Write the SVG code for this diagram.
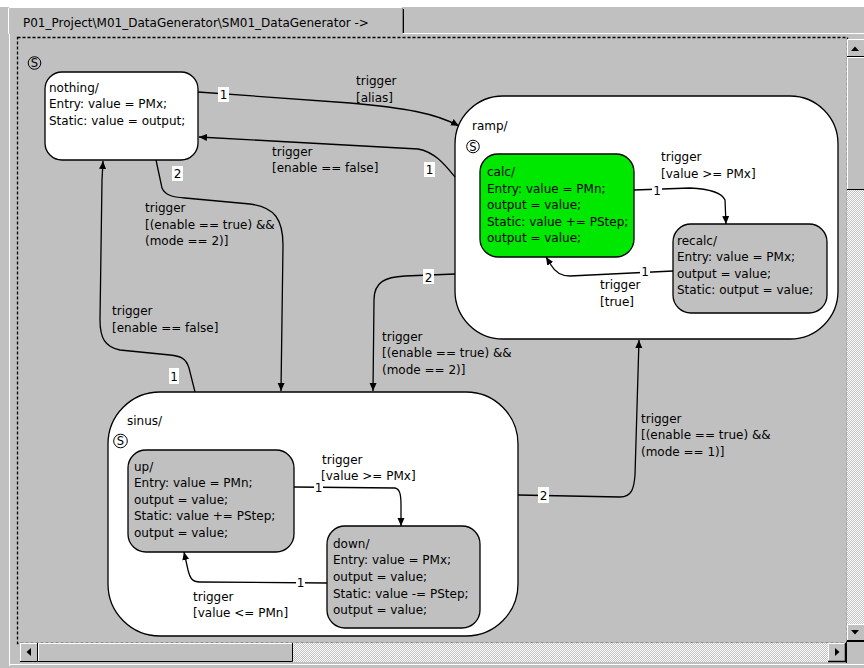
<svg xmlns="http://www.w3.org/2000/svg" width="864" height="668" viewBox="0 0 864 668">
<defs>
<style>
text{font-family:"DejaVu Sans","Liberation Sans",sans-serif;font-size:12px;fill:#000}
.st{stroke:#000;stroke-width:1.3}
.w{fill:#fff}
.g{fill:#c0c0c0}
.gr{fill:#00e800}
.c{fill:none;stroke:#000;stroke-width:1.3}
.lb{fill:#fff}
.n{text-anchor:middle}
.ic{fill:none;stroke:#000;stroke-width:1}
.ict{font-size:11.5px;text-anchor:middle}
</style>
<marker id="ah" markerUnits="userSpaceOnUse" markerWidth="9" markerHeight="8" refX="8" refY="4" orient="auto">
<path d="M0,0.5 L8,4 L0,7.5 z" fill="#000"/>
</marker>
<pattern id="dith" width="2" height="2" patternUnits="userSpaceOnUse">
<rect width="2" height="2" fill="#c0c0c0"/>
<rect width="1" height="1" fill="#fff"/>
<rect x="1" y="1" width="1" height="1" fill="#fff"/>
</pattern>
</defs>

<!-- window background -->
<rect width="864" height="668" fill="#c0c0c0"/>
<rect width="864" height="7" fill="#fff"/>

<!-- tab -->
<g id="tab">
<path d="M8.5,34 V9 Q8.5,7.5 10,7.5 H402" fill="none" stroke="#fff" stroke-width="1"/>
<line x1="402.5" y1="8" x2="402.5" y2="33" stroke="#808080" stroke-width="1"/>
<line x1="403.5" y1="9" x2="403.5" y2="33" stroke="#000" stroke-width="1"/>
<line x1="403" y1="33.5" x2="864" y2="33.5" stroke="#fff" stroke-width="1"/>
<line x1="9.5" y1="34" x2="9.5" y2="666" stroke="#fff" stroke-width="1"/>
<text x="23" y="27">P01_Project\M01_DataGenerator\SM01_DataGenerator -&gt;</text>
</g>

<!-- canvas border -->
<rect x="17.5" y="37.5" width="830" height="606" fill="none" stroke="#000" stroke-width="1.3" stroke-dasharray="3,2"/>

<!-- top-level initial icon -->
<g id="init-top">
<circle class="ic" cx="34.5" cy="63" r="6.3"/>
<text class="ict" x="34.5" y="67">S</text>
</g>

<!-- nodes -->
<g id="nothing">
<rect class="w st" x="45" y="72" width="153" height="88" rx="17"/>
<text x="49" y="91.5">nothing/</text>
<text x="49" y="108">Entry: value = PMx;</text>
<text x="49" y="124.5">Static: value = output;</text>
</g>

<g id="ramp">
<rect class="w st" x="455" y="96" width="383" height="243" rx="48"/>
<text x="472" y="129.5">ramp/</text>
<circle class="ic" cx="473" cy="146.5" r="6.3"/>
<text class="ict" x="473" y="150.5">S</text>
</g>

<g id="calc">
<rect class="gr st" x="480" y="154" width="154" height="103" rx="18"/>
<text x="487" y="176">calc/</text>
<text x="487" y="192.6">Entry: value = PMn;</text>
<text x="487" y="209.2">output = value;</text>
<text x="487" y="225.8">Static: value += PStep;</text>
<text x="487" y="242.4">output = value;</text>
</g>

<g id="recalc">
<rect class="g st" x="673" y="224" width="154" height="89" rx="18"/>
<text x="677" y="244.5">recalc/</text>
<text x="677" y="261.1">Entry: value = PMx;</text>
<text x="677" y="277.7">output = value;</text>
<text x="677" y="294.3">Static: output = value;</text>
</g>

<g id="sinus">
<rect class="w st" x="108" y="392" width="410" height="244" rx="52"/>
<text x="127" y="424.5">sinus/</text>
<circle class="ic" cx="120.5" cy="441" r="6.8"/>
<text class="ict" x="120.5" y="445">S</text>
</g>

<g id="up">
<rect class="g st" x="128" y="450" width="166" height="102" rx="18"/>
<text x="134" y="470.5">up/</text>
<text x="134" y="487.1">Entry: value = PMn;</text>
<text x="134" y="503.7">output = value;</text>
<text x="134" y="520.3">Static: value += PStep;</text>
<text x="134" y="536.9">output = value;</text>
</g>

<g id="down">
<rect class="g st" x="327" y="526" width="153" height="102" rx="18"/>
<text x="333" y="547.8">down/</text>
<text x="333" y="564.4">Entry: value = PMx;</text>
<text x="333" y="581">output = value;</text>
<text x="333" y="597.6">Static: value -= PStep;</text>
<text x="333" y="614.2">output = value;</text>
</g>

<!-- connectors -->
<g id="connectors">
<path class="c" marker-end="url(#ah)" d="M198,92 L350,103 C405,108 435,113 459,126"/>
<path class="c" marker-end="url(#ah)" d="M455,177 C445,165 435,152 418,149 L199,137"/>
<path class="c" marker-end="url(#ah)" d="M156,160 L162,188 C165,195 172,197 185,198 L250,204 C275,207 283,220 283,245 L281,391"/>
<path class="c" marker-end="url(#ah)" d="M195,392 L189,368 C186,358 180,356 170,355 L120,350 C105,347 100,338 100,320 L102,180 L103,161"/>
<path class="c" marker-end="url(#ah)" d="M455,274 L405,276 C385,277 374,282 374,300 L373,391"/>
<path class="c" marker-end="url(#ah)" d="M518,495 L620,497 C632,497 634,488 635,475 L639,340"/>
<path class="c" marker-end="url(#ah)" d="M634,190 L690,188 C710,189 722,193 725,200 L726,224"/>
<path class="c" marker-end="url(#ah)" d="M673,271 L570,276 C560,276 555,272 551,265 L546,257"/>
<path class="c" marker-end="url(#ah)" d="M294,487 L395,488 C400,489 401,495 401,505 L401,526"/>
<path class="c" marker-end="url(#ah)" d="M327,583 L200,582 C192,582 190,578 188,570 L184,552"/>

<!-- priority labels -->
<rect class="lb" x="218" y="87" width="11" height="15"/><text class="n" x="223.5" y="99">1</text>
<rect class="lb" x="424" y="162" width="11" height="15"/><text class="n" x="429.5" y="174">1</text>
<rect class="lb" x="172" y="166" width="11" height="15"/><text class="n" x="177.5" y="178">2</text>
<rect class="lb" x="169" y="368" width="10" height="16"/><text class="n" x="174" y="380.5">1</text>
<rect class="lb" x="423" y="269" width="11" height="15"/><text class="n" x="428.5" y="281.5">2</text>
<rect class="lb" x="538" y="487" width="11" height="16"/><text class="n" x="543.5" y="499.5">2</text>
<rect class="lb" x="652" y="184" width="10" height="13"/><text class="n" x="657" y="195">1</text>
<rect class="lb" x="640" y="265" width="10" height="13"/><text class="n" x="645" y="276">1</text>
<rect class="lb" x="314" y="481" width="9" height="13"/><text class="n" x="318.5" y="492">1</text>
<rect class="lb" x="296" y="576" width="9" height="13"/><text class="n" x="300.5" y="587">1</text>

<!-- trigger labels -->
<text x="356" y="85">trigger</text><text x="356" y="101.6">[alias]</text>
<text x="272" y="155.5">trigger</text><text x="272" y="172">[enable == false]</text>
<text x="661" y="161">trigger</text><text x="661" y="177.6">[value &gt;= PMx]</text>
<text x="600" y="289">trigger</text><text x="600" y="305.6">[true]</text>
<text x="145" y="212">trigger</text><text x="145" y="228.6">[(enable == true) &amp;&amp;</text><text x="145" y="245.2">(mode == 2)]</text>
<text x="112" y="315">trigger</text><text x="112" y="331.6">[enable == false]</text>
<text x="382" y="340.5">trigger</text><text x="382" y="357.1">[(enable == true) &amp;&amp;</text><text x="382" y="373.7">(mode == 2)]</text>
<text x="641" y="422.8">trigger</text><text x="641" y="439.4">[(enable == true) &amp;&amp;</text><text x="641" y="456">(mode == 1)]</text>
<text x="322" y="463.5">trigger</text><text x="321" y="480.1">[value &gt;= PMx]</text>
<text x="193" y="600.5">trigger</text><text x="193" y="617.1">[value &lt;= PMn]</text>
</g>

<!-- vertical scrollbar -->
<g id="vscroll">
<rect x="847" y="39" width="17" height="602" fill="url(#dith)"/>
<rect x="847" y="39" width="17" height="18" fill="#c0c0c0"/>
<path d="M847.5,56.5 V39.5 H864" fill="none" stroke="#fff"/>
<path d="M847,56.5 H864" fill="none" stroke="#000"/>
<path d="M851,51 H859 L855,46.5 z" fill="#000"/>
<rect x="847" y="57" width="17" height="133" fill="#c0c0c0"/>
<path d="M847.5,189.5 V57.5 H864" fill="none" stroke="#fff"/>
<path d="M847,189.5 H864" fill="none" stroke="#000"/>
<rect x="847" y="624" width="17" height="17" fill="#c0c0c0"/>
<path d="M847.5,640.5 V624.5 H864" fill="none" stroke="#fff"/>
<path d="M847,640.5 H864" fill="none" stroke="#000"/>
<path d="M851,630 H859 L855,634.5 z" fill="#000"/>
</g>

<!-- horizontal scrollbar -->
<g id="hscroll">
<rect x="20" y="643" width="827" height="19" fill="url(#dith)"/>
<rect x="20" y="643" width="18" height="19" fill="#c0c0c0"/>
<path d="M20.5,661.5 V643.5 H37.5" fill="none" stroke="#fff"/>
<path d="M20,661.5 H37.5 V643" fill="none" stroke="#000"/>
<path d="M31,648 V656 L26.5,652 z" fill="#000"/>
<rect x="38" y="643" width="255" height="19" fill="#c0c0c0"/>
<path d="M38.5,661.5 V643.5 H292.5" fill="none" stroke="#fff"/>
<path d="M38,661.5 H292.5 V643" fill="none" stroke="#000"/>
<rect x="828" y="643" width="18" height="19" fill="#c0c0c0"/>
<path d="M828.5,661.5 V643.5 H845.5" fill="none" stroke="#fff"/>
<path d="M828,661.5 H845.5 V643" fill="none" stroke="#000" stroke-width="1.5"/>
<path d="M835,648 V656 L839.5,652 z" fill="#000"/>
<rect x="847" y="642" width="17" height="21" fill="#c0c0c0"/>
<path d="M846.5,663 V641.5 H864" fill="none" stroke="#000"/>
<line x1="10" y1="664.5" x2="864" y2="664.5" stroke="#fff"/>
</g>
</svg>
